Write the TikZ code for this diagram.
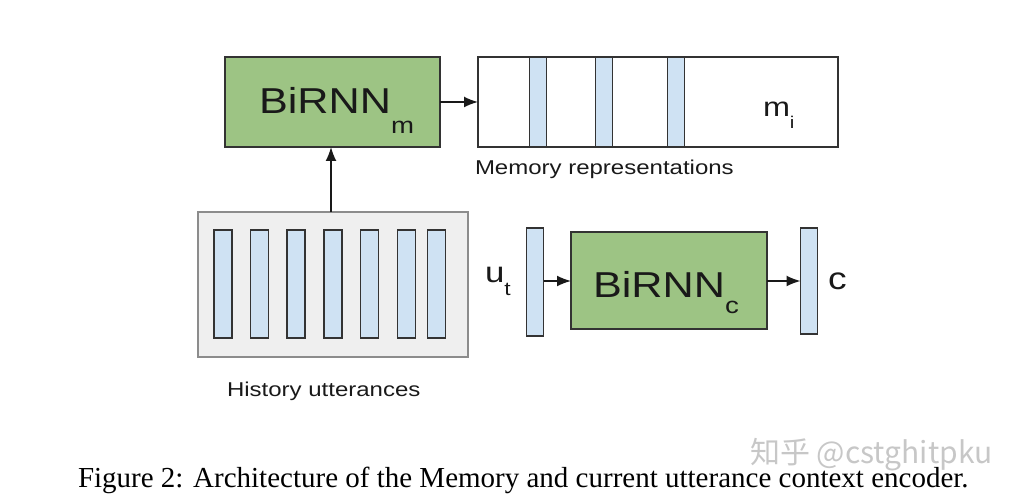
\documentclass[tikz,border=0pt]{standalone}
\usepackage{fontspec}
\setmainfont{Liberation Sans}
\newfontfamily\capfont{Liberation Serif}
\newfontfamily\wmfont{Noto Sans CJK SC}
\usetikzlibrary{arrows.meta}
\definecolor{rnngreen}{RGB}{157,196,132}
\definecolor{vecblue}{RGB}{207,226,243}
\definecolor{histgray}{RGB}{239,239,239}
\definecolor{edgegray}{RGB}{51,51,51}
\newcommand{\fsz}[1]{\fontsize{#1}{#1}\selectfont}
\begin{document}
\begin{tikzpicture}[x=1pt, y=-1pt,
  every node/.style={inner sep=0pt, outer sep=0pt},
  rnnbox/.style={draw=edgegray, line width=1.6pt, fill=rnngreen, rectangle},
  vecbar/.style={draw=edgegray, line width=1.6pt, fill=vecblue, rectangle, minimum width=17pt},
  txt/.style={xscale=1.2, text=black!90},
  arr/.style={-{Latex[length=14pt,width=11pt]}, line width=1.6pt, draw=black!90}]
\useasboundingbox (0,0) rectangle (1020,502);
% memory encoder
\node[rnnbox, minimum width=215pt, minimum height=90pt] (birnnm) at (332.5,102) {};
\node[txt, anchor=base west] (birnnmtext) at (259,114) {\fsz{36}BiRNN\raisebox{-20pt}{\fsz{23}m}};
\node[draw=edgegray, line width=1.6pt, fill=white, minimum width=360pt, minimum height=90pt] (mem) at (658,102) {};
\node[vecbar, minimum height=90pt] (mem1) at (538,102) {};
\node[vecbar, minimum height=90pt] (mem2) at (604,102) {};
\node[vecbar, minimum height=90pt] (mem3) at (676,102) {};
\node[txt, anchor=base west] (mi) at (763,117) {\fsz{27}m\raisebox{-12pt}{\fsz{17}i}};
\node[txt, anchor=base west] (memlabel) at (475,175) {\fsz{20}Memory representations};
\draw[arr] (birnnm.east) -- (mem.west);
% history
\node[draw=black!45, line width=1.6pt, fill=histgray, minimum width=270pt, minimum height=145pt] (hist) at (333,284.5) {};
\node[vecbar, minimum width=18pt, minimum height=108pt] (h1) at (223,284) {};
\node[vecbar, minimum width=18pt, minimum height=108pt] (h2) at (259.6,284) {};
\node[vecbar, minimum width=18pt, minimum height=108pt] (h3) at (295.8,284) {};
\node[vecbar, minimum width=18pt, minimum height=108pt] (h4) at (332.7,284) {};
\node[vecbar, minimum width=18pt, minimum height=108pt] (h5) at (369.5,284) {};
\node[vecbar, minimum width=18pt, minimum height=108pt] (h6) at (406.4,284) {};
\node[vecbar, minimum width=18pt, minimum height=108pt] (h7) at (436.3,284) {};
\node[txt, anchor=base west] (histlabel) at (227,397) {\fsz{20}History utterances};
\draw[arr] (hist.north -| 331,0) -- (birnnm.south -| 331,0);
% current utterance encoder
\node[vecbar, minimum height=108pt] (ut) at (535,282) {};
\node[txt, anchor=base west] (utlabel) at (485,283) {\fsz{29}u\raisebox{-13pt}{\fsz{19}t}};
\node[rnnbox, minimum width=196pt, minimum height=97pt] (birnnc) at (669,280.5) {};
\node[txt, anchor=base west] (birnnctext) at (593,298) {\fsz{36}BiRNN\raisebox{-16pt}{\fsz{23}c}};
\node[vecbar, minimum height=106pt] (cvec) at (809,281) {};
\node[txt, anchor=base west] (clabel) at (828,290) {\fsz{31}c};
\draw[arr] (ut.east |- 0,281) -- (birnnc.west |- 0,281);
\draw[arr] (birnnc.east |- 0,281) -- (cvec.west |- 0,281);
% caption and watermark
\node[anchor=base west, text=black!22] (wm) at (750,463) {\wmfont\fsz{30}知乎 @cstghitpku};
\node[anchor=base west] (caption) at (78,487) {\capfont\fsz{29}Figure 2: Architecture of the Memory and current utterance context encoder.};
\end{tikzpicture}
\end{document}
